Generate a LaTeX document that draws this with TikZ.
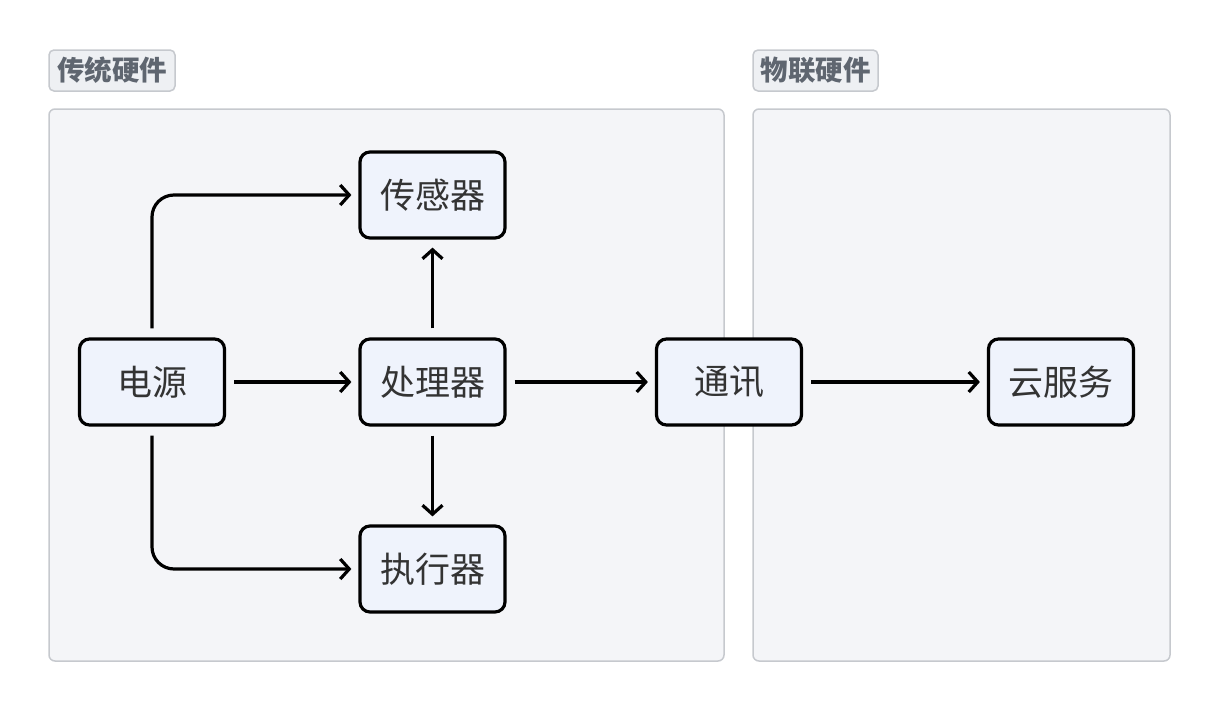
\documentclass[tikz,border=0pt]{standalone}
\usepackage{fontspec}
\newfontfamily\cjk{Noto Sans CJK SC}
\usetikzlibrary{arrows.meta}
\definecolor{grpfill}{HTML}{F4F5F8}
\definecolor{grpline}{HTML}{C6C9CE}
\definecolor{lblfill}{HTML}{EEF0F3}
\definecolor{lbltext}{HTML}{5F6670}
\definecolor{nodefill}{HTML}{EFF3FC}
\definecolor{nodetext}{HTML}{333333}
\tikzset{
  grp/.style={draw=grpline, fill=grpfill, line width=1.5pt, rounded corners=6pt},
  grplbl/.style={draw=grpline, fill=lblfill, line width=1.5pt, rounded corners=5pt,
    font=\cjk\bfseries\fontsize{27.5}{30}\selectfont, text=lbltext, inner sep=0pt},
  box/.style={draw=black, fill=nodefill, line width=3.2pt, rounded corners=10pt,
    minimum width=145pt, minimum height=86pt, inner sep=0pt,
    font=\cjk\fontsize{35}{40}\selectfont, text=nodetext},
  conn/.style={draw=black, line width=3.2pt, rounded corners=22pt,
    -{Straight Barb[length=9pt,width=20pt,line width=3.2pt]}}
}
\begin{document}
\begin{tikzpicture}[x=1pt,y=-1pt]
\useasboundingbox (0,0) rectangle (1220,712);
% groups
\draw[grp] (49,109) rectangle (724,661);
\draw[grp] (753,109) rectangle (1170,661);
\node[grplbl, minimum width=126pt, minimum height=41pt] (lbl1) at (112,70.5) {传统硬件};
\node[grplbl, minimum width=125pt, minimum height=41pt] (lbl2) at (815.5,70.5) {物联硬件};
% nodes
\node[box] (power) at (152,382) {电源};
\node[box] (sensor) at (432.5,195) {传感器};
\node[box] (cpu) at (432.5,382) {处理器};
\node[box] (act) at (432.5,569) {执行器};
\node[box] (comm) at (729,382) {通讯};
\node[box] (cloud) at (1061,382) {云服务};
% connectors
\draw[conn] ([yshift=9pt]power.north) |- ([xshift=-7pt]sensor.west);
\draw[conn] ([xshift=8pt]power.east) -- ([xshift=-7pt]cpu.west);
\draw[conn] ([yshift=-9pt]power.south) |- ([xshift=-7pt]act.west);
\draw[conn] ([yshift=9pt]cpu.north) -- ([yshift=-8pt]sensor.south);
\draw[conn] ([yshift=-9pt]cpu.south) -- ([yshift=8pt]act.north);
\draw[conn] ([xshift=8pt]cpu.east) -- ([xshift=-7pt]comm.west);
\draw[conn] ([xshift=8pt]comm.east) -- ([xshift=-7pt]cloud.west);
\end{tikzpicture}
\end{document}
